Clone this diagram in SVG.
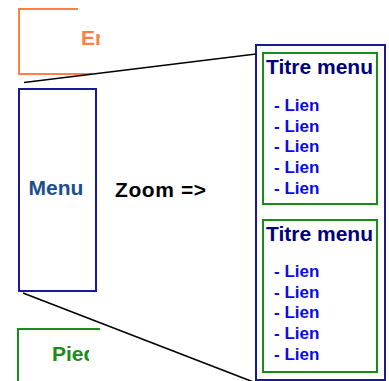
<svg xmlns="http://www.w3.org/2000/svg" width="389" height="381" viewBox="0 0 389 381">
  <style>
    text { font-family: "Liberation Sans", Arial, sans-serif; font-weight: bold; }
    .frame { fill: none; }
    .header { stroke: #ff8040; stroke-width: 2; }
    .navy { stroke: #1a1a99; stroke-width: 2; }
    .green { stroke: #1a8c1a; stroke-width: 2; }
    .title { fill: #00007a; font-size: 21px; }
    .link { fill: #0a0ae6; font-size: 17px; }
    .conn { stroke: #000; stroke-width: 1.6; fill: none; }
  </style>
  <defs>
    <clipPath id="clip-header"><rect x="0" y="0" width="100" height="90"/></clipPath>
    <clipPath id="clip-footer"><rect x="0" y="320" width="89" height="61"/></clipPath>
  </defs>
  <rect width="389" height="381" fill="#fff"/>

  <!-- header block (cropped) -->
  <g id="header">
    <path class="frame header" d="M78,9 H19 V74 H92"/>
    <text x="81" y="45" fill="#ff8040" font-size="21" clip-path="url(#clip-header)">En-tête</text>
  </g>

  <!-- side menu -->
  <g id="menu">
    <rect class="frame navy" x="19" y="89" width="77" height="202"/>
    <text x="56" y="195" fill="#1a4f8c" font-size="21" text-anchor="middle">Menu</text>
  </g>

  <!-- footer block (cropped) -->
  <g id="footer">
    <path class="frame green" d="M18,381 V329 H100"/>
    <text x="52" y="361" fill="#1a8c1a" font-size="21" clip-path="url(#clip-footer)">Pied de page</text>
  </g>

  <text id="zoom-label" x="115" y="197" fill="#000" font-size="21" letter-spacing="0.6">Zoom =&gt;</text>

  <!-- magnified menu -->
  <g id="zoom-panel">
    <rect class="frame navy" x="256" y="45" width="129" height="335"/>
    <g id="menu-block-1">
      <rect class="frame green" x="263" y="53" width="114" height="151"/>
      <text class="title" x="266" y="74">Titre menu</text>
      <text class="link" x="274" y="111">- Lien</text>
      <text class="link" x="274" y="131.7">- Lien</text>
      <text class="link" x="274" y="152.4">- Lien</text>
      <text class="link" x="274" y="173.1">- Lien</text>
      <text class="link" x="274" y="193.8">- Lien</text>
    </g>
    <g id="menu-block-2">
      <rect class="frame green" x="263" y="220" width="114" height="152"/>
      <text class="title" x="266" y="241">Titre menu</text>
      <text class="link" x="274" y="277">- Lien</text>
      <text class="link" x="274" y="297.7">- Lien</text>
      <text class="link" x="274" y="318.4">- Lien</text>
      <text class="link" x="274" y="339.1">- Lien</text>
      <text class="link" x="274" y="359.8">- Lien</text>
    </g>
  </g>

  <!-- zoom guide lines -->
  <g id="connectors">
    <line class="conn" x1="24" y1="82.5" x2="256" y2="54"/>
    <line class="conn" x1="23" y1="293" x2="256" y2="383"/>
  </g>
</svg>
